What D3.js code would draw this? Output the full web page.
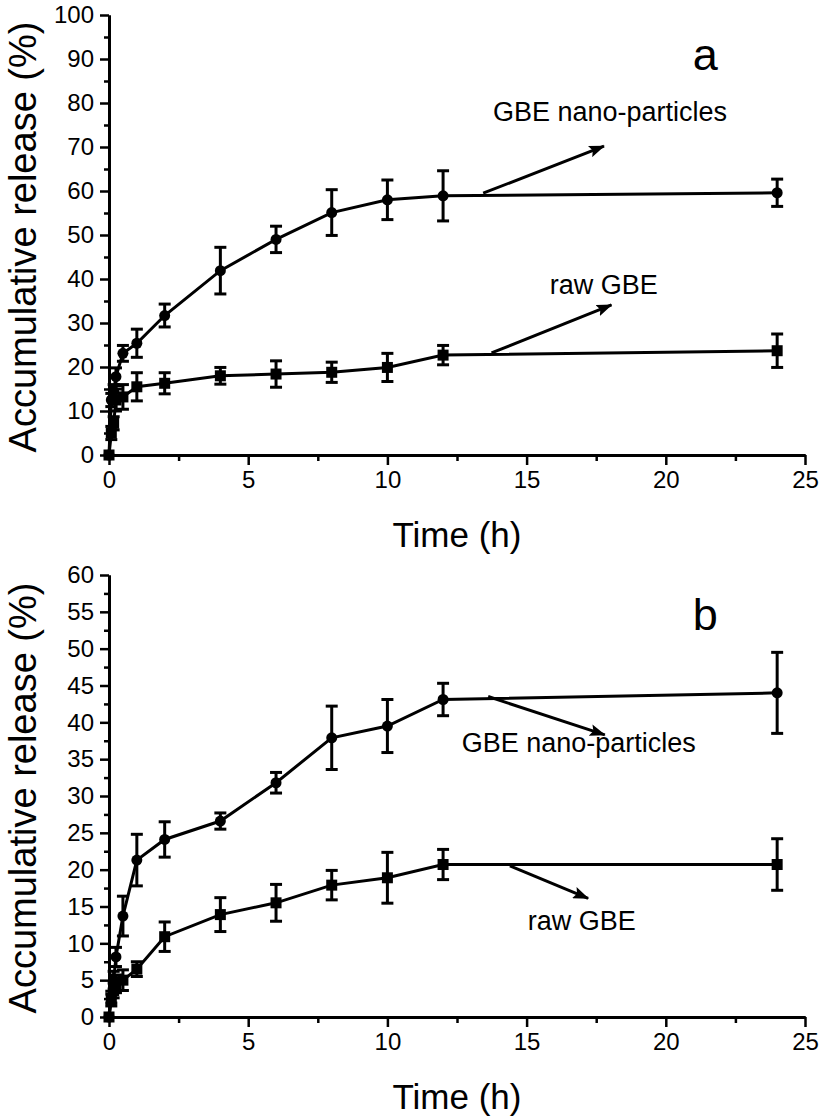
<!DOCTYPE html>
<html>
<head>
<meta charset="utf-8">
<script src="https://cdn.jsdelivr.net/npm/d3@7"></script>
<style>
  body { margin: 0; background: #fff; }
  svg text { font-family: "Liberation Sans", Arial, sans-serif; fill: #000; }
</style>
</head>
<body>
<div id="graf"></div>
<script>
// sampling times (h)
const times = [0, 0.083, 0.167, 0.25, 0.5, 1, 2, 4, 6, 8, 10, 12, 24]

// panel a
const nanoA = [0, 12.5, 14.5, 17.8, 23.1, 25.4, 31.7, 41.9, 49.0, 55.1, 58.0, 58.9, 59.6]
const nanoAErr = [0, 1.5, 1.5, 2.0, 1.8, 3.2, 2.6, 5.3, 3.0, 5.2, 4.5, 5.7, 3.1]
const rawA = [0, 5.0, 7.2, 12.5, 13.2, 15.5, 16.3, 18.0, 18.4, 18.8, 19.9, 22.7, 23.7]
const rawAErr = [0, 1.5, 1.5, 2.5, 2.8, 3.2, 2.4, 1.9, 3.0, 2.3, 3.2, 2.2, 3.8]

// panel b
const nanoB = [0, 2.7, 5.0, 8.15, 13.7, 21.3, 24.1, 26.6, 31.8, 37.9, 39.5, 43.1, 44.0]
const nanoBErr = [0, 0.8, 1.2, 1.3, 2.7, 3.5, 2.4, 1.1, 1.4, 4.3, 3.6, 2.2, 5.5]
const rawB = [0, 2.3, 3.6, 4.5, 5.0, 6.5, 10.9, 13.9, 15.5, 17.9, 18.9, 20.7, 20.7]
const rawBErr = [0, 0.8, 1.0, 1.2, 1.4, 1.0, 2.0, 2.3, 2.5, 2.0, 3.45, 2.05, 3.5]

// tick values
const xMajor = [0, 5, 10, 15, 20, 25]
const xMinor = [2.5, 7.5, 12.5, 17.5, 22.5]
const yMajorA = [0, 10, 20, 30, 40, 50, 60, 70, 80, 90, 100]
const yMinorA = [5, 15, 25, 35, 45, 55, 65, 75, 85, 95]
const yMajorB = [0, 5, 10, 15, 20, 25, 30, 35, 40, 45, 50, 55, 60]
const yMinorB = [2.5, 7.5, 12.5, 17.5, 22.5, 27.5, 32.5, 37.5, 42.5, 47.5, 52.5, 57.5]

// annotations: label, text anchor (t, %), arrow from (t, %) to (t, %)
const notesA = [
  { label: "GBE nano-particles", at: [13.79, 75.9], from: [13.44, 59.5], to: [17.78, 70.2] },
  { label: "raw GBE", at: [15.83, 36.6], from: [13.74, 23.2], to: [18.05, 34.1] }
]
const notesB = [
  { label: "GBE nano-particles", at: [12.67, 36.0], from: [13.62, 43.5], to: [17.81, 38.3] },
  { label: "raw GBE", at: [15.04, 11.8], from: [14.4, 20.5], to: [17.21, 16.1] }
]

const W = 835, H = 1118
const svg = d3.select("#graf").append("svg").attr("width", W).attr("height", H)

svg.append("defs").append("marker")
  .attr("id", "arrow")
  .attr("markerUnits", "userSpaceOnUse")
  .attr("viewBox", "0 0 16 12")
  .attr("refX", 15).attr("refY", 6)
  .attr("markerWidth", 16).attr("markerHeight", 12)
  .attr("orient", "auto")
  .append("path")
  .attr("d", "M0,0 L16,6 L0,12 L3,6 Z")
  .attr("fill", "#000")

const drawPanel = (p) => {
  const x = d3.scaleLinear().domain([0, 25]).range([109, 805])
  const y = d3.scaleLinear().domain([0, p.yMax]).range([p.bottom, p.top])

  const g = svg.append("g")

  // axes
  const styleAxis = (sel) => {
    sel.select(".domain").attr("stroke-width", 3)
    sel.selectAll(".tick line").attr("stroke-width", 2.5)
    sel.selectAll("text").style("font-size", "24px")
  }

  g.append("g").attr("transform", `translate(0,${p.bottom})`)
    .call(d3.axisBottom(x).tickValues(xMinor).tickSize(6).tickSizeOuter(0).tickFormat(""))
    .call(styleAxis)
  g.append("g").attr("transform", `translate(0,${p.bottom})`)
    .call(d3.axisBottom(x).tickValues(xMajor).tickSize(10).tickSizeOuter(0).tickPadding(6).tickFormat(d3.format("d")))
    .call(styleAxis)
  g.append("g").attr("transform", `translate(${x(0)},0)`)
    .call(d3.axisLeft(y).tickValues(p.yMinor).tickSize(5).tickSizeOuter(0).tickFormat(""))
    .call(styleAxis)
  g.append("g").attr("transform", `translate(${x(0)},0)`)
    .call(d3.axisLeft(y).tickValues(p.yMajor).tickSize(9).tickSizeOuter(0).tickPadding(6).tickFormat(d3.format("d")))
    .call(styleAxis)

  // axis titles
  g.append("text")
    .attr("transform", `translate(36,${(p.top + p.bottom) / 2 + 2}) rotate(-90)`)
    .attr("text-anchor", "middle")
    .style("font-size", "38px")
    .text("Accumulative release (%)")
  g.append("text")
    .attr("x", (x(0) + x(25)) / 2)
    .attr("y", p.bottom + 92)
    .attr("text-anchor", "middle")
    .style("font-size", "35px")
    .text("Time (h)")

  // series
  const line = d3.line().x((d) => x(d.t)).y((d) => y(d.v))
  p.series.forEach((s) => {
    const pts = times.map((t, i) => ({ t: t, v: s.values[i], e: s.err[i] }))
    const sg = g.append("g")
    sg.append("path").datum(pts)
      .attr("d", line).attr("fill", "none")
      .attr("stroke", "#000").attr("stroke-width", 3)

    const eb = sg.selectAll(".eb").data(pts.filter((d) => d.e > 0)).join("g")
    eb.append("line")
      .attr("x1", (d) => x(d.t)).attr("x2", (d) => x(d.t))
      .attr("y1", (d) => y(d.v - d.e)).attr("y2", (d) => y(d.v + d.e))
      .attr("stroke", "#000").attr("stroke-width", 3)
    ;[-1, 1].forEach((sgn) => {
      eb.append("line")
        .attr("x1", (d) => x(d.t) - 6).attr("x2", (d) => x(d.t) + 6)
        .attr("y1", (d) => y(d.v + sgn * d.e)).attr("y2", (d) => y(d.v + sgn * d.e))
        .attr("stroke", "#000").attr("stroke-width", 3)
    })

    if (s.shape === "circle") {
      sg.selectAll("circle").data(pts).join("circle")
        .attr("cx", (d) => x(d.t)).attr("cy", (d) => y(d.v))
        .attr("r", 5.5).attr("fill", "#000")
    } else {
      sg.selectAll("rect").data(pts).join("rect")
        .attr("x", (d) => x(d.t) - 5.5).attr("y", (d) => y(d.v) - 5.5)
        .attr("width", 11).attr("height", 11).attr("fill", "#000")
    }
  })

  // annotations
  p.notes.forEach((n) => {
    g.append("line")
      .attr("x1", x(n.from[0])).attr("y1", y(n.from[1]))
      .attr("x2", x(n.to[0])).attr("y2", y(n.to[1]))
      .attr("stroke", "#000").attr("stroke-width", 3)
      .attr("marker-end", "url(#arrow)")
    g.append("text")
      .attr("x", x(n.at[0])).attr("y", y(n.at[1]))
      .style("font-size", "27px")
      .text(n.label)
  })

  g.append("text")
    .attr("x", x(20.97)).attr("y", y(p.letterY))
    .style("font-size", "45px")
    .text(p.letter)
}

drawPanel({
  top: 15, bottom: 455, yMax: 100, yMajor: yMajorA, yMinor: yMinorA,
  series: [
    { values: nanoA, err: nanoAErr, shape: "circle" },
    { values: rawA, err: rawAErr, shape: "square" }
  ],
  notes: notesA, letter: "a", letterY: 87.5
})

drawPanel({
  top: 575, bottom: 1017, yMax: 60, yMajor: yMajorB, yMinor: yMinorB,
  series: [
    { values: nanoB, err: nanoBErr, shape: "circle" },
    { values: rawB, err: rawBErr, shape: "square" }
  ],
  notes: notesB, letter: "b", letterY: 52.5
})
</script>
</body>
</html>
